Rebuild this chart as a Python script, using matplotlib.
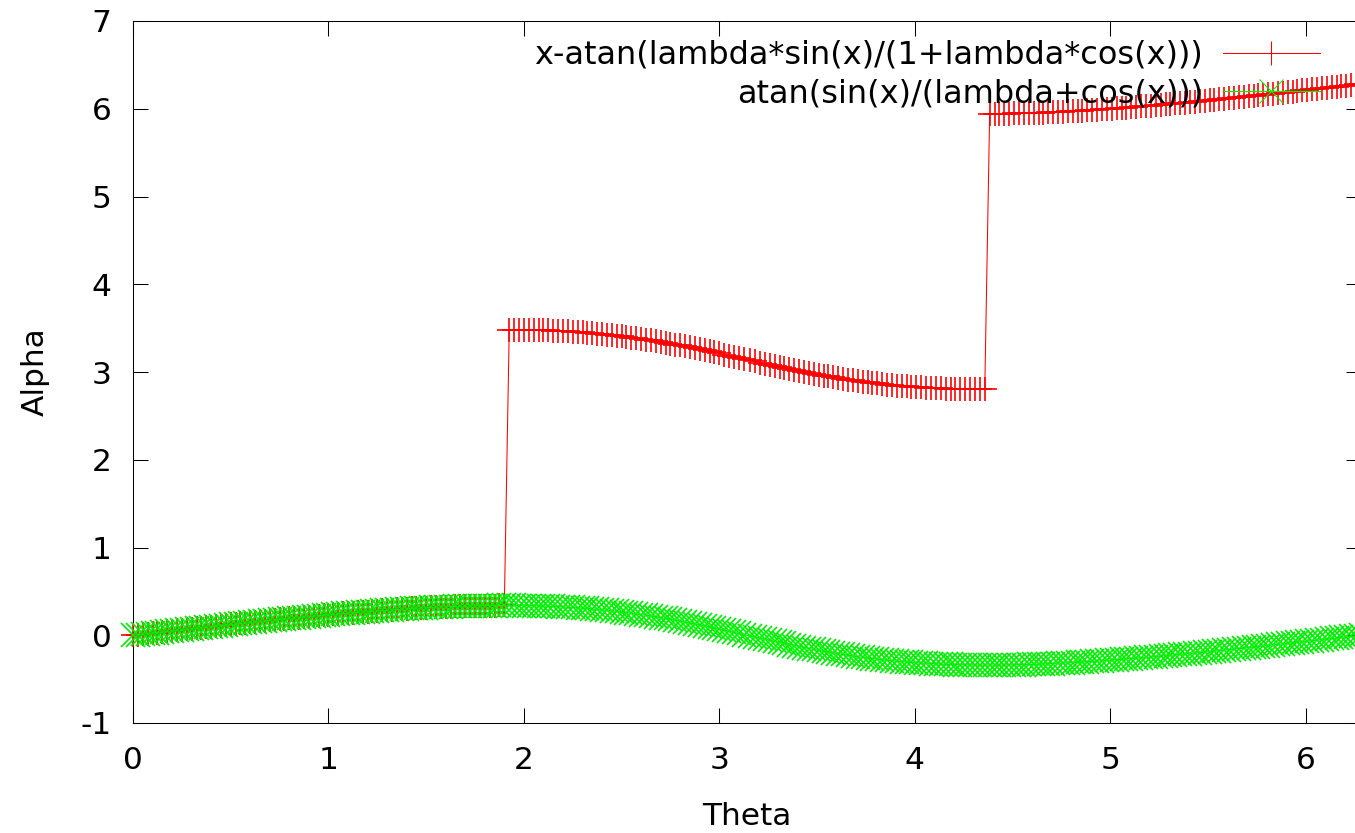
import numpy as np
import matplotlib
matplotlib.use("Agg")
import matplotlib.pyplot as plt

# ---------------- data ----------------
theta_step = 0.025
n_half = 126
theta = np.concatenate([np.arange(n_half) * theta_step,
                        2 * np.pi - np.arange(n_half - 1, -1, -1) * theta_step])

red_alpha = [
    0.000, 0.006, 0.012, 0.019, 0.025, 0.031, 0.037, 0.044, 0.050, 0.056,
    0.062, 0.068, 0.075, 0.081, 0.087, 0.093, 0.099, 0.105, 0.111, 0.117,
    0.123, 0.129, 0.135, 0.141, 0.147, 0.152, 0.158, 0.164, 0.169, 0.175,
    0.181, 0.186, 0.192, 0.197, 0.202, 0.208, 0.213, 0.218, 0.223, 0.228,
    0.233, 0.238, 0.243, 0.248, 0.253, 0.257, 0.262, 0.266, 0.270, 0.275,
    0.279, 0.283, 0.287, 0.291, 0.294, 0.298, 0.301, 0.305, 0.308, 0.311,
    0.314, 0.317, 0.320, 0.322, 0.325, 0.327, 0.329, 0.331, 0.333, 0.334,
    0.336, 0.337, 0.338, 0.339, 0.339, 0.340, 0.340,
    3.481, 3.481, 3.481, 3.480, 3.479, 3.478, 3.476, 3.475, 3.473, 3.470,
    3.468, 3.465, 3.462, 3.459, 3.455, 3.451, 3.447, 3.442, 3.437, 3.432,
    3.426, 3.420, 3.414, 3.407, 3.400, 3.393, 3.386, 3.378, 3.369, 3.361,
    3.352, 3.343, 3.333, 3.323, 3.313, 3.303, 3.292, 3.281, 3.270, 3.259,
    3.247, 3.236, 3.224, 3.212, 3.199, 3.187, 3.175, 3.162, 3.150,
    3.133, 3.121, 3.108, 3.096, 3.084, 3.071, 3.059, 3.048, 3.036,
    3.024, 3.013, 3.002, 2.991, 2.980, 2.970, 2.960, 2.950, 2.940, 2.931,
    2.922, 2.914, 2.906, 2.898, 2.890, 2.883, 2.876, 2.869, 2.863, 2.857,
    2.851, 2.846, 2.841, 2.837, 2.832, 2.828, 2.825, 2.821, 2.818, 2.815,
    2.813, 2.811, 2.809, 2.807, 2.805, 2.804, 2.803, 2.802, 2.802, 2.802,
    5.943, 5.944, 5.944, 5.945, 5.945, 5.946, 5.948,
    5.949, 5.951, 5.952, 5.954, 5.956, 5.959, 5.961, 5.964, 5.966, 5.969,
    5.972, 5.975, 5.978, 5.982, 5.985, 5.989, 5.993, 5.996, 6.000, 6.004,
    6.009, 6.013, 6.017, 6.022, 6.026, 6.031, 6.035, 6.040, 6.045, 6.050,
    6.055, 6.060, 6.065, 6.070, 6.075, 6.081, 6.086, 6.092, 6.097, 6.103,
    6.108, 6.114, 6.119, 6.125, 6.131, 6.137, 6.142, 6.148, 6.154, 6.160,
    6.166, 6.172, 6.178, 6.184, 6.190, 6.196, 6.202, 6.209, 6.215, 6.221,
    6.227, 6.233, 6.240, 6.246, 6.252, 6.258, 6.264, 6.271, 6.277, 6.283,
]

green_alpha = [
    0.000, 0.006, 0.012, 0.019, 0.025, 0.031, 0.037, 0.044, 0.050, 0.056,
    0.062, 0.068, 0.075, 0.081, 0.087, 0.093, 0.099, 0.105, 0.111, 0.117,
    0.123, 0.129, 0.135, 0.141, 0.147, 0.152, 0.158, 0.164, 0.169, 0.175,
    0.181, 0.186, 0.192, 0.197, 0.202, 0.208, 0.213, 0.218, 0.223, 0.228,
    0.233, 0.238, 0.243, 0.248, 0.253, 0.257, 0.262, 0.266, 0.270, 0.275,
    0.279, 0.283, 0.287, 0.291, 0.294, 0.298, 0.301, 0.305, 0.308, 0.311,
    0.314, 0.317, 0.320, 0.322, 0.325, 0.327, 0.329, 0.331, 0.333, 0.334,
    0.336, 0.337, 0.338, 0.339, 0.339, 0.340, 0.340,
    0.340, 0.340, 0.339, 0.338, 0.337, 0.336, 0.335, 0.333, 0.331, 0.329,
    0.326, 0.323, 0.320, 0.317, 0.313, 0.309, 0.305, 0.300, 0.295, 0.290,
    0.285, 0.279, 0.272, 0.266, 0.259, 0.252, 0.244, 0.236, 0.228, 0.219,
    0.210, 0.201, 0.192, 0.182, 0.172, 0.161, 0.151, 0.140, 0.129, 0.117,
    0.106, 0.094, 0.082, 0.070, 0.058, 0.046, 0.033, 0.021, 0.008,
    -0.008, -0.021, -0.033, -0.046, -0.058, -0.070, -0.082, -0.094, -0.106,
    -0.117, -0.129, -0.140, -0.151, -0.161, -0.172, -0.182, -0.192, -0.201, -0.210,
    -0.219, -0.228, -0.236, -0.244, -0.252, -0.259, -0.266, -0.272, -0.279, -0.285,
    -0.290, -0.295, -0.300, -0.305, -0.309, -0.313, -0.317, -0.320, -0.323, -0.326,
    -0.329, -0.331, -0.333, -0.335, -0.336, -0.337, -0.338, -0.339, -0.340, -0.340,
    -0.340, -0.340, -0.339, -0.339, -0.338, -0.337, -0.336,
    -0.334, -0.333, -0.331, -0.329, -0.327, -0.325, -0.322, -0.320, -0.317, -0.314,
    -0.311, -0.308, -0.305, -0.301, -0.298, -0.294, -0.291, -0.287, -0.283, -0.279,
    -0.275, -0.270, -0.266, -0.262, -0.257, -0.253, -0.248, -0.243, -0.238, -0.233,
    -0.228, -0.223, -0.218, -0.213, -0.208, -0.202, -0.197, -0.192, -0.186, -0.181,
    -0.175, -0.169, -0.164, -0.158, -0.152, -0.147, -0.141, -0.135, -0.129, -0.123,
    -0.117, -0.111, -0.105, -0.099, -0.093, -0.087, -0.081, -0.075, -0.068, -0.062,
    -0.056, -0.050, -0.044, -0.037, -0.031, -0.025, -0.019, -0.012, -0.006, 0.000,
]

red_label = "x-atan(lambda*sin(x)/(1+lambda*cos(x)))"
green_label = "atan(sin(x)/(lambda+cos(x)))"
x_ticks = [0, 1, 2, 3, 4, 5, 6]
x_tick_labels = ["0", "1", "2", "3", "4", "5", "6"]
y_ticks = [-1, 0, 1, 2, 3, 4, 5, 6, 7]
y_tick_labels = ["-1", "0", "1", "2", "3", "4", "5", "6", "7"]
x_label = "Theta"
y_label = "Alpha"

# ---------------- figure ----------------
plt.rcParams['font.family'] = ['DejaVu Sans']
plt.rcParams['axes.unicode_minus'] = False
FS = 22.5
LFS = 23.0
W, H = 1355, 833

fig = plt.figure(figsize=(W / 100, H / 100), dpi=100, facecolor='white')
ax = fig.add_axes([133 / W, 110 / H, 1228 / W, 702 / H])

ax.plot(theta, red_alpha, color='#ff0000', lw=0.75, marker='+', ms=17.3,
        mew=1.2, clip_on=False, label=red_label, zorder=3)
ax.plot(theta, green_alpha, color='#00ee00', lw=0.9, marker='x', ms=17.3,
        mew=1.2, clip_on=False, label=green_label, zorder=4)

ax.set_xlim(0, 2 * np.pi)
ax.set_ylim(-1, 7)
ax.set_xticks(x_ticks)
ax.set_xticklabels(x_tick_labels)
ax.set_yticks(y_ticks)
ax.set_yticklabels(y_tick_labels)
ax.tick_params(direction='in', length=10.5, width=0.75, top=True, right=True,
               labelsize=FS, colors='black')
ax.tick_params(axis='y', pad=15.5)
ax.tick_params(axis='x', pad=16.5)
for s in ax.spines.values():
    s.set_linewidth(0.75)

ax.set_xlabel(x_label, fontsize=FS)
ax.xaxis.set_label_coords(0.5, -0.1125)
ax.set_ylabel(y_label, fontsize=FS)
ax.yaxis.set_label_coords(-0.068, 0.5)

leg = ax.legend(loc='upper right', bbox_to_anchor=(1320 / W, 1 - 40 / H),
                bbox_transform=fig.transFigure, frameon=False, markerfirst=False,
                numpoints=1, fontsize=LFS, handlelength=3.05, handletextpad=0.62,
                labelspacing=0.22, borderpad=0, borderaxespad=0)
for h in leg.legend_handles:
    h.set_markeredgewidth(0.75)
leg.set_zorder(5)

fig.savefig('out.png', dpi=100, facecolor='white')
